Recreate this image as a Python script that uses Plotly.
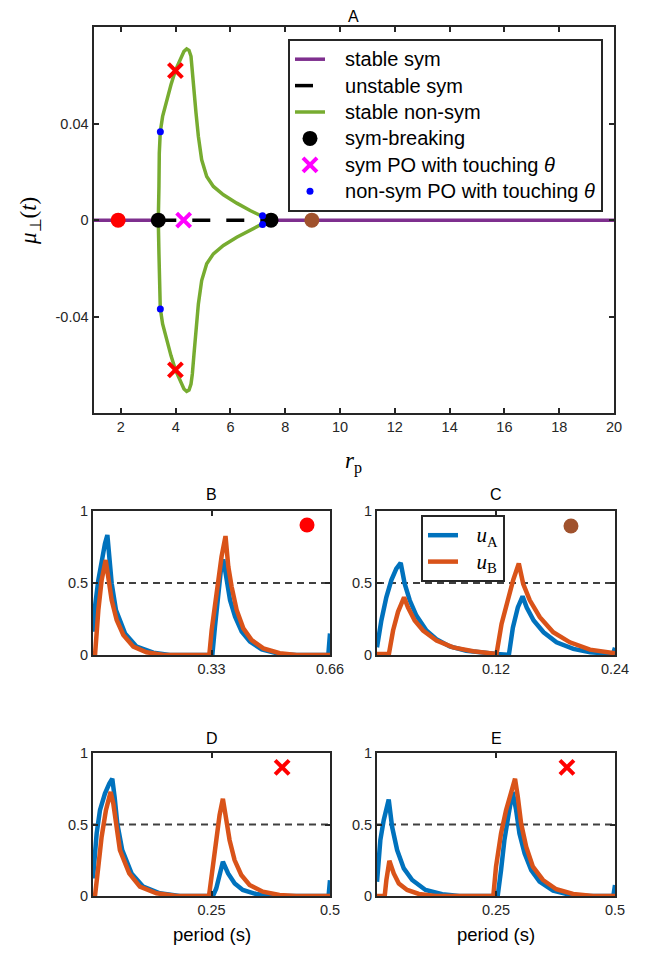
import plotly.graph_objects as go

# ---------------- Panel A data ----------------
green_x = [3.365, 3.389, 3.402, 3.438, 3.523, 3.670, 3.828, 3.987, 4.157, 4.303, 4.401, 4.486,
           4.559, 4.608, 4.669, 4.742, 4.828, 4.949, 5.132, 5.376, 5.742, 6.229, 6.717, 7.021, 7.168]
green_y = [0.0, 0.01398, 0.02782, 0.03668, 0.04305, 0.04997, 0.05619, 0.06201, 0.06658, 0.07004,
           0.07100, 0.07045, 0.06796, 0.06381, 0.05550, 0.04443, 0.03474, 0.02505, 0.01813,
           0.01398, 0.01052, 0.00706, 0.00401, 0.00221, 0.00152]

sym_break_x = [3.365, 7.48]
stable_left = [1.0, 3.365]
stable_right = [7.48, 20.0]
unstable_x = [3.365, 7.48]

red_dot_A = (1.90, 0.0)
brown_dot_A = (8.97, 0.0)
sym_po_x = [4.29]
red_x_A_x = [3.99, 3.99]
red_x_A_y = [0.062, -0.0621]
blue_x = [3.44, 3.44, 7.17, 7.17]
blue_y = [0.0367, -0.0369, 0.0018, -0.0018]

# ---------------- Panel B (period 0.66) ----------------
B_tA = [0, 0.0056, 0.0149, 0.0241, 0.0334, 0.040, 0.0456, 0.052, 0.064, 0.0891, 0.1216, 0.168, 0.214,
        0.3323, 0.3397, 0.349, 0.3557, 0.363, 0.3725, 0.3817, 0.3957, 0.414, 0.437, 0.47, 0.52, 0.567,
        0.6553, 0.66]
B_uA = [0.162, 0.336, 0.52, 0.66, 0.775, 0.833, 0.66, 0.498, 0.3125, 0.15, 0.058, 0.016, 0.0,
        0.0, 0.197, 0.45, 0.579, 0.664, 0.52, 0.38, 0.266, 0.162, 0.093, 0.039, 0.007, 0.0,
        0.0, 0.15]
B_tB = [0, 0.0056, 0.0149, 0.0241, 0.0353, 0.0427, 0.052, 0.0659, 0.0845, 0.1123, 0.149, 0.196,
        0.3239, 0.3305, 0.3397, 0.349, 0.358, 0.369, 0.3768, 0.386, 0.40, 0.4186, 0.4418, 0.4744,
        0.52, 0.567, 0.66]
B_uB = [0.0, 0.0, 0.3125, 0.52, 0.66, 0.544, 0.382, 0.243, 0.139, 0.058, 0.019, 0.0,
        0.0, 0.174, 0.359, 0.52, 0.683, 0.826, 0.613, 0.475, 0.3125, 0.185, 0.104, 0.046,
        0.012, 0.0, 0.0]

# ---------------- Panel C (period 0.24) ----------------
C_tA = [0, 0.0044, 0.0094, 0.0145, 0.0195, 0.0239, 0.0279, 0.033, 0.0397, 0.0498, 0.0599, 0.0734,
        0.090, 0.107, 0.1205, 0.132, 0.133, 0.137, 0.142, 0.1468, 0.151, 0.158, 0.168, 0.181, 0.198,
        0.215, 0.238, 0.24]
C_uA = [0.053, 0.24, 0.40, 0.52, 0.60, 0.64, 0.495, 0.38, 0.274, 0.17, 0.11, 0.06,
        0.03, 0.014, 0.007, 0.002, 0.002, 0.19, 0.33, 0.407, 0.33, 0.24, 0.158, 0.088, 0.042,
        0.019, 0.007, 0.05]
C_tB = [0, 0.012, 0.0162, 0.0212, 0.0273, 0.0313, 0.038, 0.0465, 0.06, 0.0767, 0.097, 0.1195,
        0.1205, 0.1256, 0.1306, 0.1373, 0.143, 0.1474, 0.1541, 0.1642, 0.1777, 0.1945, 0.2148, 0.24]
C_uB = [0.007, 0.007, 0.17, 0.30, 0.40, 0.33, 0.24, 0.17, 0.10, 0.053, 0.026, 0.007,
        0.007, 0.216, 0.356, 0.52, 0.635, 0.495, 0.38, 0.263, 0.158, 0.088, 0.037, 0.012]

# ---------------- Panel D (period 0.5) ----------------
D_tA = [0, 0.0077, 0.0147, 0.0252, 0.0344, 0.0407, 0.0456, 0.0512, 0.0617, 0.0813, 0.1059, 0.141,
        0.183, 0.253, 0.26, 0.267, 0.274, 0.285, 0.299, 0.316, 0.344, 0.379, 0.497, 0.5]
D_uA = [0.123, 0.437, 0.60, 0.716, 0.786, 0.82, 0.693, 0.507, 0.321, 0.158, 0.065, 0.019,
        0.0, 0.0, 0.053, 0.158, 0.24, 0.158, 0.088, 0.042, 0.014, 0.0, 0.0, 0.11]
D_tB = [0, 0.0042, 0.0112, 0.0182, 0.0273, 0.0372, 0.0428, 0.0484, 0.0568, 0.0764, 0.0989, 0.134,
        0.176, 0.2447, 0.2517, 0.26, 0.267, 0.274, 0.2812, 0.2882, 0.2987, 0.3128, 0.3303, 0.3583,
        0.3934, 0.4285, 0.5]
D_uB = [0.0, 0.0, 0.205, 0.414, 0.60, 0.728, 0.647, 0.507, 0.321, 0.158, 0.065, 0.019,
        0.0, 0.0, 0.181, 0.414, 0.565, 0.68, 0.53, 0.39, 0.251, 0.147, 0.077, 0.03,
        0.007, 0.0, 0.0]

# ---------------- Panel E (period 0.5) ----------------
E_tA = [0, 0.007, 0.0141, 0.0197, 0.0246, 0.0317, 0.0423, 0.0563, 0.0739, 0.102, 0.137, 0.173,
        0.2535, 0.2606, 0.2676, 0.2768, 0.285, 0.2923, 0.2993, 0.31, 0.324, 0.3415, 0.37, 0.405,
        0.447, 0.4965, 0.5]
E_uA = [0.10, 0.39, 0.53, 0.61, 0.674, 0.484, 0.321, 0.193, 0.112, 0.042, 0.012, 0.0,
        0.0, 0.181, 0.39, 0.577, 0.728, 0.6, 0.437, 0.298, 0.181, 0.10, 0.037, 0.009,
        0.0, 0.0, 0.077]
E_tB = [0, 0.0162, 0.0197, 0.026, 0.0352, 0.0458, 0.0634, 0.088, 0.123, 0.2444, 0.25, 0.2606,
        0.2711, 0.2817, 0.29, 0.2958, 0.3028, 0.3134, 0.3275, 0.3486, 0.3768, 0.412, 0.454, 0.5]
E_uB = [0.0, 0.0, 0.112, 0.246, 0.158, 0.088, 0.042, 0.014, 0.0, 0.0, 0.205, 0.437,
        0.6, 0.716, 0.82, 0.693, 0.507, 0.344, 0.205, 0.112, 0.047, 0.014, 0.0, 0.0]

panel_markers = {
    "B": (0.596, 0.903, "circle", "#FF0000"),
    "C": (0.1956, 0.896, "circle", "#A0522D"),
    "D": (0.399, 0.90, "x-thin", "#FF0000"),
    "E": (0.399, 0.90, "x-thin", "#FF0000"),
}
threshold = 0.5

# ---------------- styles ----------------
W, H = 654, 954
OFF = 8  # page offset of the figure inside the browser page
PURPLE = "#7E2F8E"
GREEN = "#77AC30"
BLUE_A = "#0072BD"
ORANGE_B = "#D95319"
AX = "#262626"
SANS = "Liberation Sans, Arial, sans-serif"
SERIF = "Liberation Serif, Times New Roman, serif"
PAD = "\u00a0\u00a0\u00a0"


def px(x):
    return (x - OFF) / W


def py(y):
    return 1 - (y - OFF) / H


def big(t, size=20):
    return PAD + '<span style="font-size:%spx">%s</span>' % (size, t)


fig = go.Figure()

# --- Panel A ---
fig.add_trace(go.Scatter(x=stable_left + [None] + stable_right, y=[0, 0, None, 0, 0],
                         mode="lines", line=dict(color=PURPLE, width=3.5), name=big("stable sym"),
                         xaxis="x", yaxis="y"))
fig.add_trace(go.Scatter(x=unstable_x, y=[0, 0], mode="lines",
                         line=dict(color="black", width=3.5, dash="18px,16px"),
                         name=big("unstable sym"), xaxis="x", yaxis="y"))
gx = green_x[::-1] + green_x[1:]
gy = green_y[::-1] + [-v for v in green_y[1:]]
fig.add_trace(go.Scatter(x=gx, y=gy, mode="lines", line=dict(color=GREEN, width=3.5),
                         name=big("stable non-sym"), xaxis="x", yaxis="y"))
fig.add_trace(go.Scatter(x=[red_dot_A[0]], y=[red_dot_A[1]], mode="markers",
                         marker=dict(color="#FF0000", size=15), showlegend=False,
                         xaxis="x", yaxis="y"))
fig.add_trace(go.Scatter(x=[brown_dot_A[0]], y=[brown_dot_A[1]], mode="markers",
                         marker=dict(color="#A0522D", size=15), showlegend=False,
                         xaxis="x", yaxis="y"))
fig.add_trace(go.Scatter(x=red_x_A_x, y=red_x_A_y, mode="markers",
                         marker=dict(symbol="x-thin", size=14, line=dict(color="#FF0000", width=4)),
                         showlegend=False, xaxis="x", yaxis="y"))
fig.add_trace(go.Scatter(x=sym_break_x, y=[0, 0], mode="markers",
                         marker=dict(color="black", size=15), name=big("sym-breaking"),
                         xaxis="x", yaxis="y"))
fig.add_trace(go.Scatter(x=sym_po_x, y=[0], mode="markers",
                         marker=dict(symbol="x-thin", size=14, line=dict(color="#FF00FF", width=4)),
                         name=big("sym PO with touching <i>θ</i>"), xaxis="x", yaxis="y"))
fig.add_trace(go.Scatter(x=blue_x, y=blue_y, mode="markers",
                         marker=dict(color="#0000FF", size=7),
                         name=big("non-sym PO with touching <i>θ</i>"), xaxis="x", yaxis="y"))

# --- Panels B-E ---
panels = [
    ("B", B_tA, B_uA, B_tB, B_uB, 0.66, "2"),
    ("C", C_tA, C_uA, C_tB, C_uB, 0.24, "3"),
    ("D", D_tA, D_uA, D_tB, D_uB, 0.5, "4"),
    ("E", E_tA, E_uA, E_tB, E_uB, 0.5, "5"),
]
for name, tA, uA, tB, uB, T, k in panels:
    xa, ya = "x" + k, "y" + k
    fig.add_trace(go.Scatter(x=[0, T], y=[threshold, threshold], mode="lines",
                             line=dict(color="#404040", width=2, dash="7px,5px"),
                             showlegend=False, xaxis=xa, yaxis=ya))
    is_c = name == "C"
    fig.add_trace(go.Scatter(x=tA, y=uA, mode="lines", line=dict(color=BLUE_A, width=4.5),
                             name=big("<i>u</i><sub>A</sub>", 21), showlegend=is_c,
                             legend="legend2", xaxis=xa, yaxis=ya))
    fig.add_trace(go.Scatter(x=tB, y=uB, mode="lines", line=dict(color=ORANGE_B, width=4.5),
                             name=big("<i>u</i><sub>B</sub>", 21), showlegend=is_c,
                             legend="legend2", xaxis=xa, yaxis=ya))
    mx, my, sym, col = panel_markers[name]
    if sym == "circle":
        mk = dict(symbol="circle", color=col, size=15)
    else:
        mk = dict(symbol="x-thin", size=14, line=dict(color=col, width=4))
    fig.add_trace(go.Scatter(x=[mx], y=[my], mode="markers", marker=mk, showlegend=False,
                             xaxis=xa, yaxis=ya))

common_axis = dict(showline=True, linecolor=AX, linewidth=2, mirror="ticks", ticks="inside",
                   ticklen=5, tickwidth=2, tickcolor=AX, showgrid=False, zeroline=False,
                   automargin=False,
                   tickfont=dict(family=SANS, size=14.5, color=AX), layer="above traces")

layout = dict(
    width=W, height=H, autosize=False,
    margin=dict(l=0, r=0, t=0, b=0, pad=0, autoexpand=False),
    paper_bgcolor="white", plot_bgcolor="white",
    xaxis=dict(common_axis, domain=[px(93.5), px(614)], range=[1, 20],
               tickvals=[2, 4, 6, 8, 10, 12, 14, 16, 18, 20], anchor="y"),
    yaxis=dict(common_axis, domain=[py(413), py(27.3)], range=[-0.08, 0.08],
               tickvals=[-0.04, 0, 0.04], ticktext=["-0.04", "0", "0.04"], anchor="x"),
    legend=dict(x=px(288), y=py(39), xanchor="left", yanchor="top",
                bgcolor="white", bordercolor=AX, borderwidth=2,
                font=dict(family=SANS, size=18, color="black")),
    legend2=dict(x=px(421), y=py(515), xanchor="left", yanchor="top",
                 bgcolor="white", bordercolor=AX, borderwidth=2,
                 font=dict(family=SERIF, size=18, color="black")),
    showlegend=True,
)

small = {
    "2": ([93, 330], [511, 655], 0.66, [0.33, 0.66], ["0.33", "0.66"]),
    "3": ([377, 615], [511, 655], 0.24, [0.12, 0.24], ["0.12", "0.24"]),
    "4": ([93, 330], [753, 896], 0.5, [0.25, 0.5], ["0.25", "0.5"]),
    "5": ([377, 615], [753, 896], 0.5, [0.25, 0.5], ["0.25", "0.5"]),
}
for k, (xd, yd, T, tv, tt) in small.items():
    layout["xaxis" + k] = dict(common_axis, domain=[px(xd[0]), px(xd[1])], range=[0, T],
                               tickvals=tv, ticktext=tt, anchor="y" + k)
    layout["yaxis" + k] = dict(common_axis, domain=[py(yd[1]), py(yd[0])], range=[0, 1],
                               tickvals=[0, 0.5, 1], ticktext=["0", "0.5", "1"], anchor="x" + k)

ann = []


def add_text(text, x, y, size, family=SANS, angle=0):
    ann.append(dict(text=text, x=px(x), y=py(y), xref="paper", yref="paper",
                    showarrow=False, xanchor="center", yanchor="middle", textangle=angle,
                    font=dict(family=family, size=size, color="black")))


add_text("A", 353.5, 17, 16)
add_text("B", 211.5, 494, 16)
add_text("C", 496, 494, 16)
add_text("D", 211.5, 738, 16)
add_text("E", 496, 738, 16)
add_text("<i>μ</i><sub>⊥</sub>(<i>t</i>)", 30, 221, 23, SERIF, -90)
add_text("<i>r</i><sub>p</sub>", 353.5, 463, 23, SERIF)
add_text("period (s)", 211.5, 934, 18.5)
add_text("period (s)", 496, 934, 18.5)
layout["annotations"] = ann

fig.update_layout(**layout)
fig.write_html("out.html")
